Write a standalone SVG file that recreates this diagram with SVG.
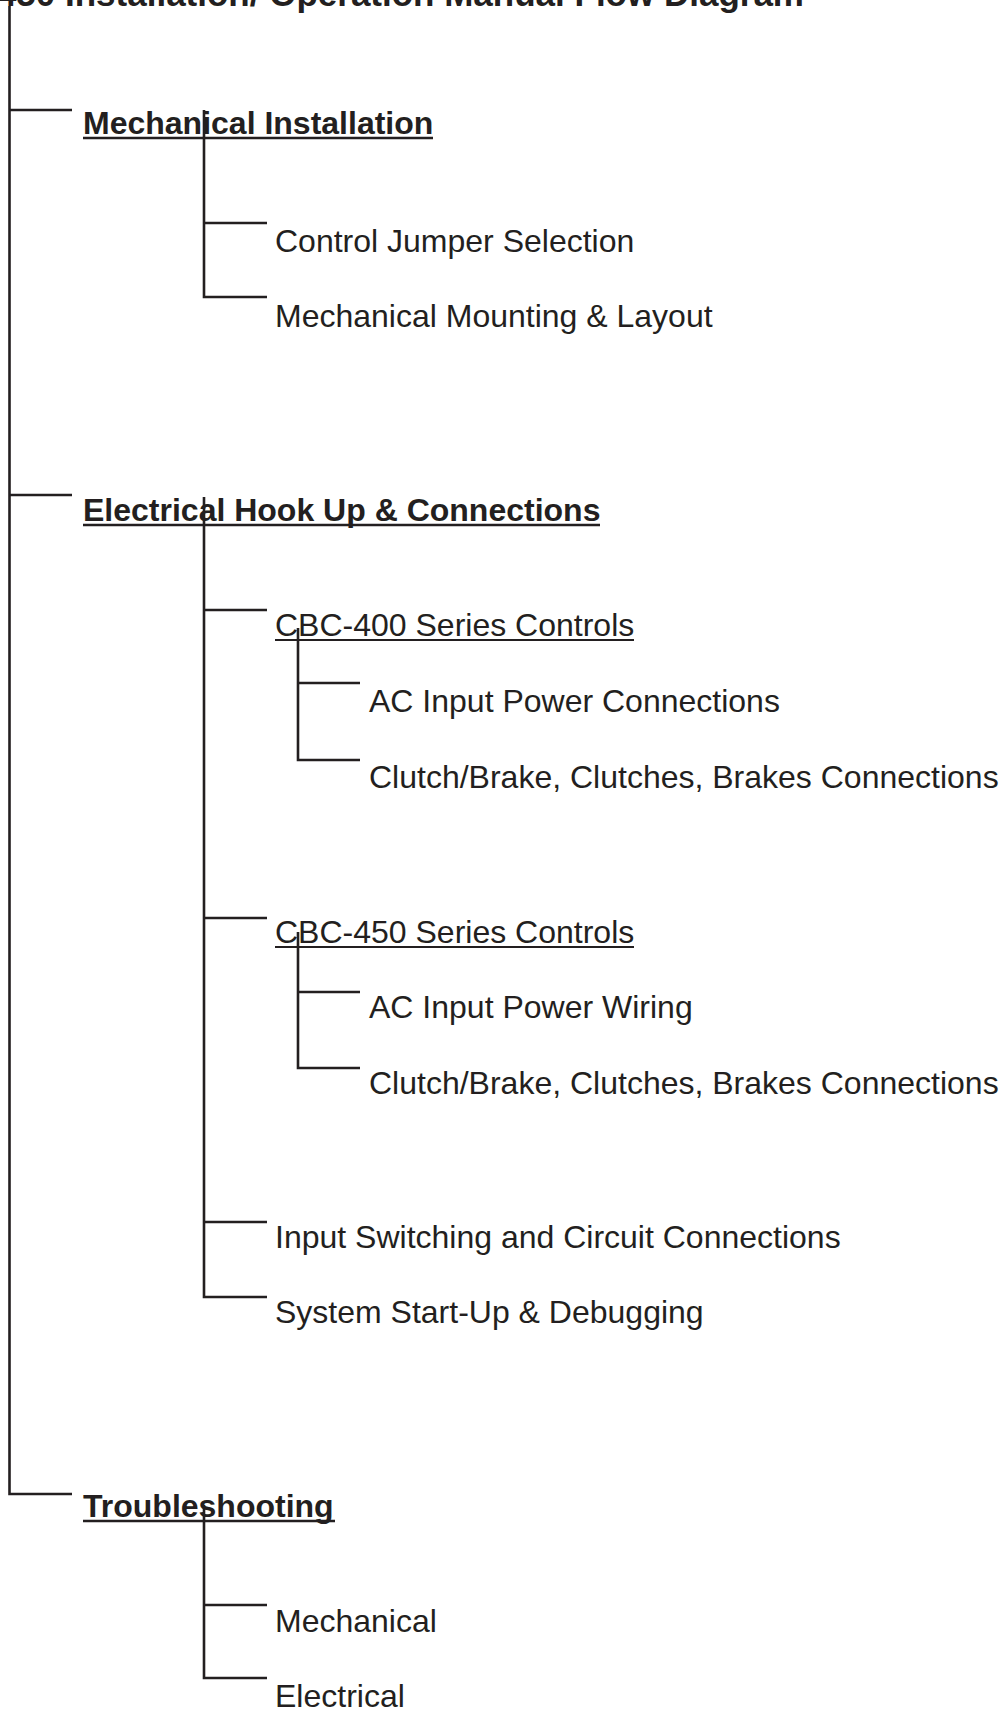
<svg xmlns="http://www.w3.org/2000/svg" width="1003" height="1711" viewBox="0 0 1003 1711">
<style>
  text { font-family: "Liberation Sans", Arial, Helvetica, sans-serif; font-size: 32px; fill: #231f20; }
  .b { font-weight: bold; }
  .t { font-size: 35px; }
  .ln { stroke: #231f20; stroke-width: 2.6; fill: none; stroke-linecap: butt; }
  .ulb { stroke: #231f20; stroke-width: 2.6; }
  .uln { stroke: #231f20; stroke-width: 1.8; }
</style>
<rect x="0" y="0" width="1003" height="1711" fill="#ffffff"/>
<g id="title">
  <text class="b t" x="804" y="6" text-anchor="end">CBC-400/ 450 Installation/ Operation Manual Flow Diagram</text>
</g>
<g id="connectors">
  <path class="ln" d="M9.5 6 V1494 H72"/>
  <path class="ln" d="M9.5 110 H72"/>
  <path class="ln" d="M9.5 495 H72"/>
  <path class="ln" d="M204 110 V297 H267 M204 223 H267"/>
  <path class="ln" d="M204 497 V1297 H267 M204 610 H267 M204 918 H267 M204 1222 H267"/>
  <path class="ln" d="M298 628 V760 H360 M298 683 H360"/>
  <path class="ln" d="M298 932 V1068 H360 M298 992 H360"/>
  <path class="ln" d="M204 1505 V1678 H267 M204 1605 H267"/>
</g>
<g id="mechanical-installation">
  <text class="b" x="83" y="134">Mechanical Installation</text>
  <line class="ulb" x1="83" y1="138" x2="433" y2="138"/>
</g>
<g id="control-jumper-selection"><text x="275" y="252">Control Jumper Selection</text></g>
<g id="mechanical-mounting-layout"><text x="275" y="327">Mechanical Mounting &amp; Layout</text></g>
<g id="electrical-hookup">
  <text class="b" x="83" y="521">Electrical Hook Up &amp; Connections</text>
  <line class="ulb" x1="83" y1="525" x2="600" y2="525"/>
</g>
<g id="cbc-400">
  <text x="275" y="636">CBC-400 Series Controls</text>
  <line class="uln" x1="275" y1="640" x2="634" y2="640"/>
</g>
<g id="ac-input-power-connections"><text x="369" y="712">AC Input Power Connections</text></g>
<g id="clutch-brake-400"><text x="369" y="788">Clutch/Brake, Clutches, Brakes Connections</text></g>
<g id="cbc-450">
  <text x="275" y="943">CBC-450 Series Controls</text>
  <line class="uln" x1="275" y1="947" x2="634" y2="947"/>
</g>
<g id="ac-input-power-wiring"><text x="369" y="1018">AC Input Power Wiring</text></g>
<g id="clutch-brake-450"><text x="369" y="1094">Clutch/Brake, Clutches, Brakes Connections</text></g>
<g id="input-switching"><text x="275" y="1248">Input Switching and Circuit Connections</text></g>
<g id="system-startup"><text x="275" y="1323">System Start-Up &amp; Debugging</text></g>
<g id="troubleshooting">
  <text class="b" x="83" y="1517">Troubleshooting</text>
  <line class="ulb" x1="83" y1="1521" x2="335" y2="1521"/>
</g>
<g id="ts-mechanical"><text x="275" y="1632">Mechanical</text></g>
<g id="ts-electrical"><text x="275" y="1707">Electrical</text></g>
</svg>
